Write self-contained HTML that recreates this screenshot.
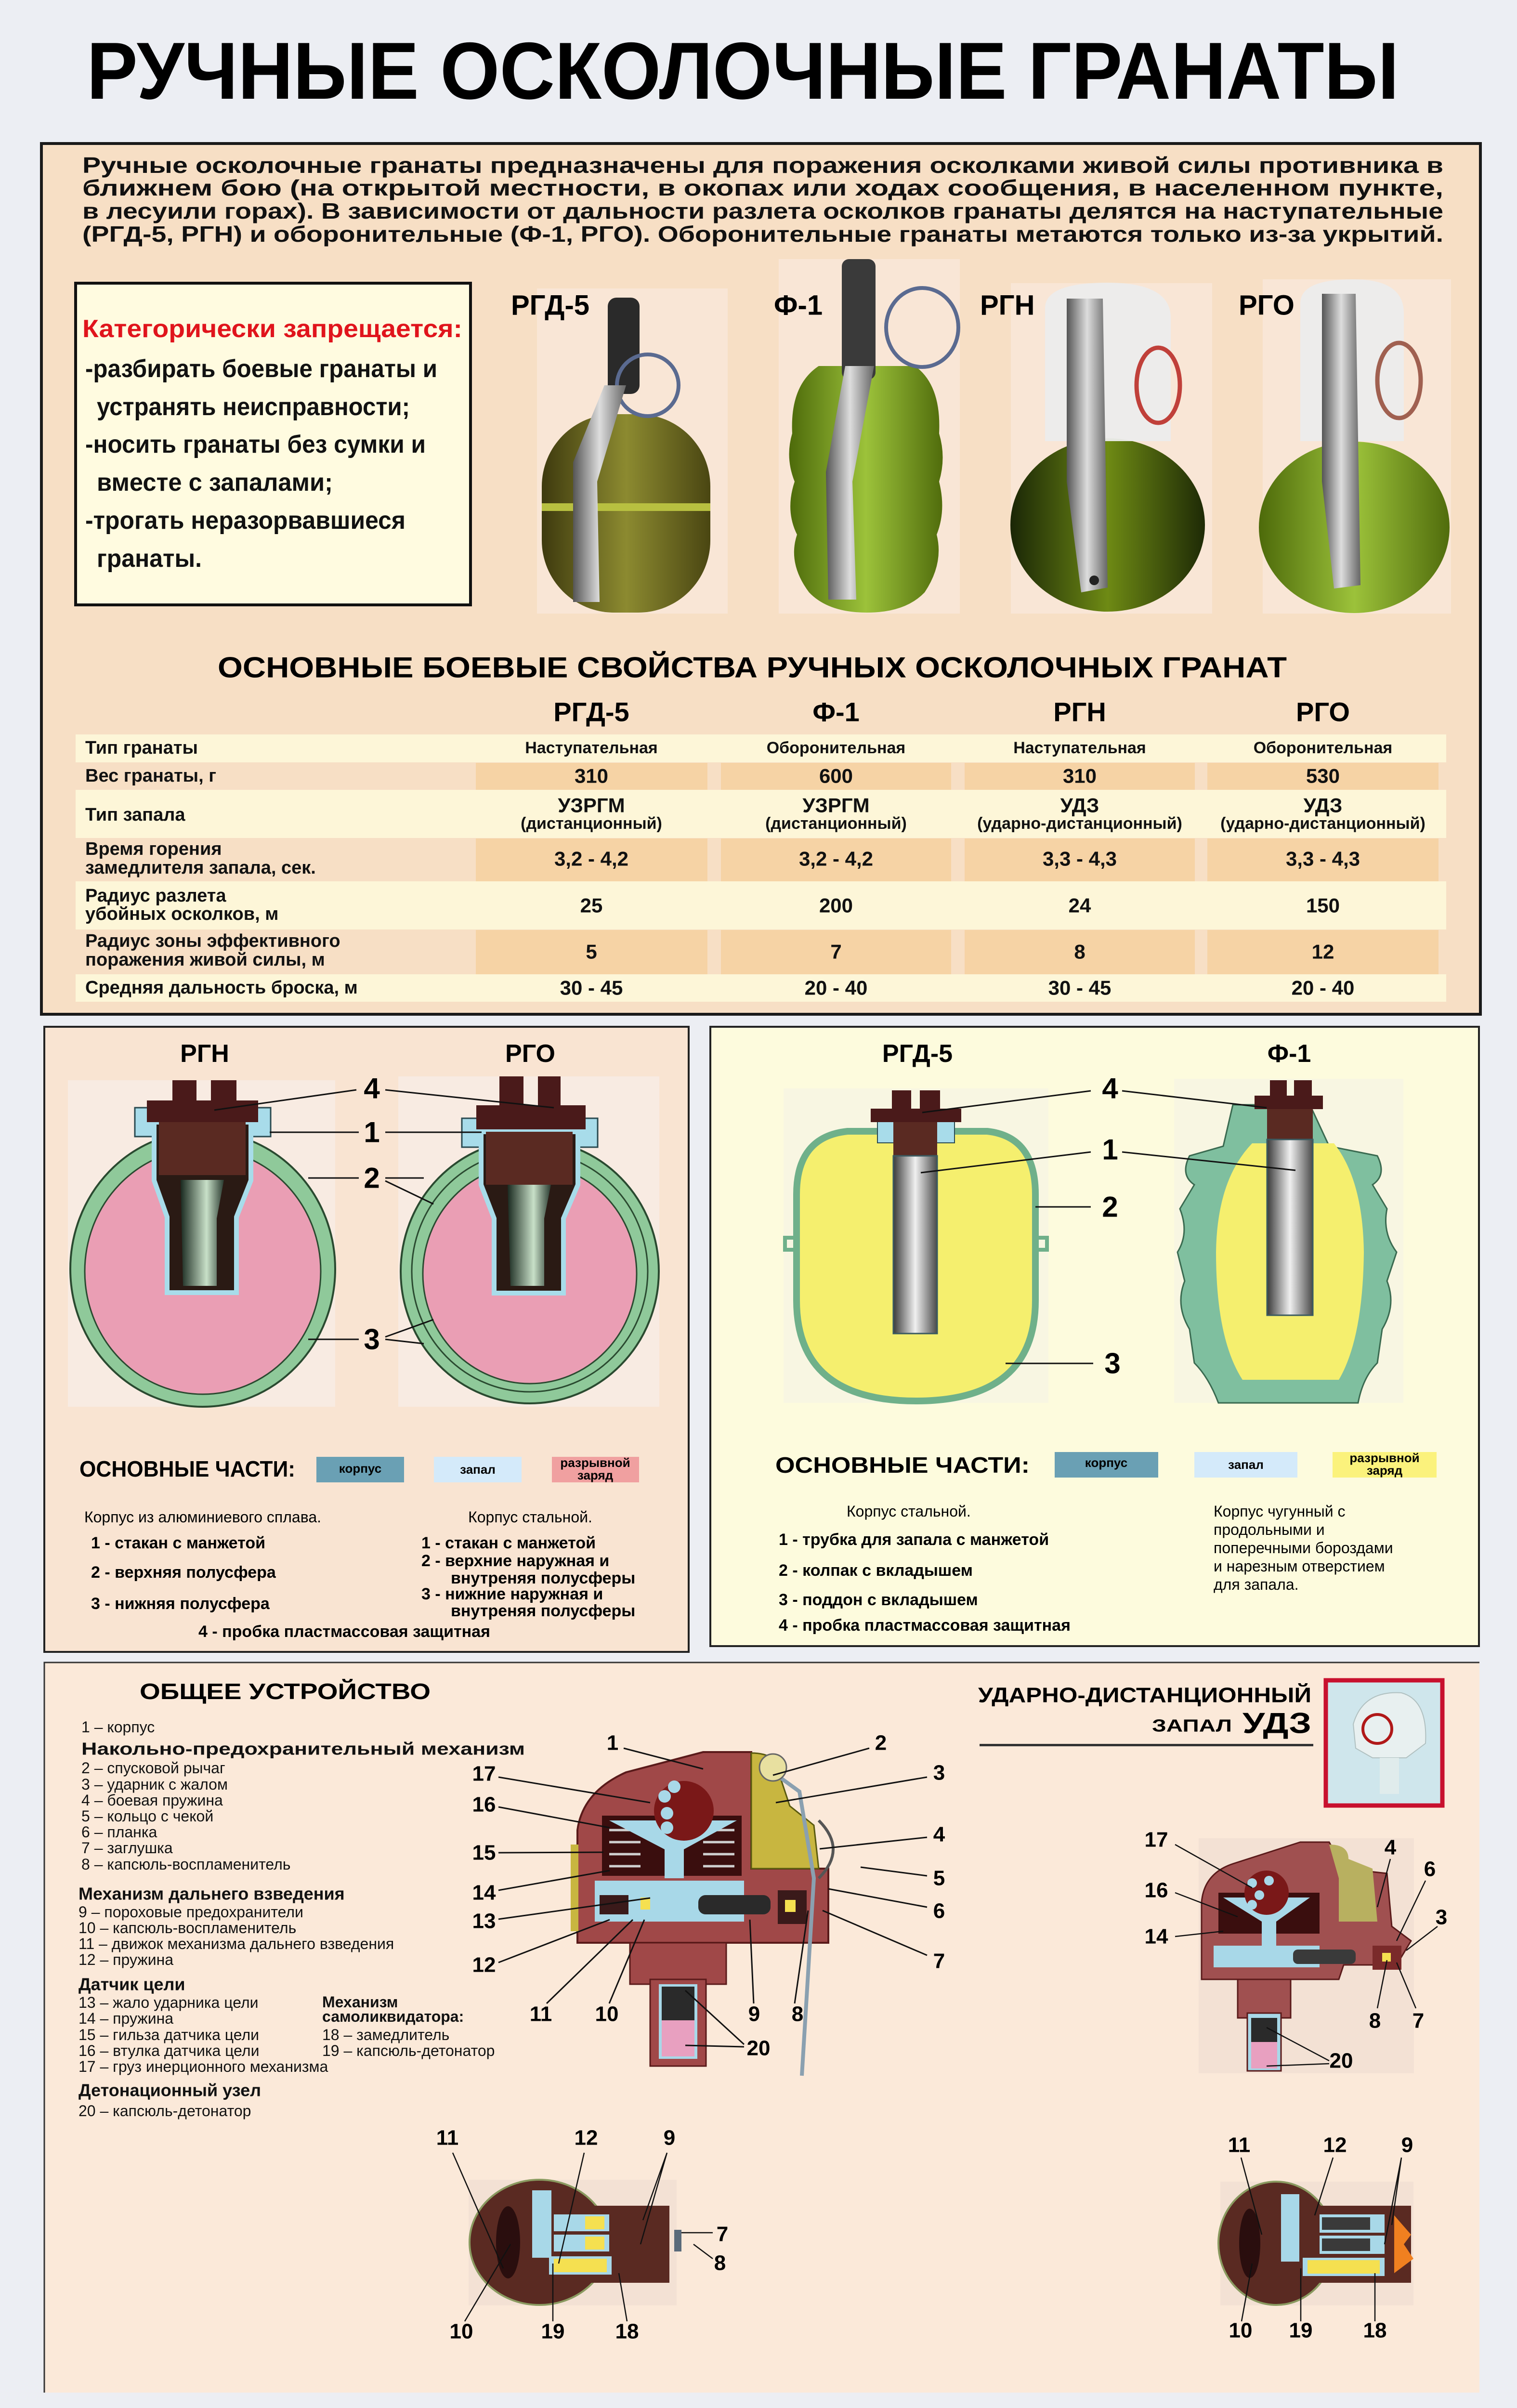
<!DOCTYPE html>
<html><head><meta charset="utf-8"><style>html,body{margin:0;padding:0;background:#eceef3;width:3150px;height:5118px;overflow:hidden}svg{display:block}text{font-family:"Liberation Sans",sans-serif}</style></head><body>
<svg width="3150" height="5118" viewBox="0 0 3150 5118" xmlns="http://www.w3.org/2000/svg">
<defs>
<linearGradient id="tube" x1="0" x2="1"><stop offset="0" stop-color="#3a3a3a"/><stop offset=".5" stop-color="#f0f0f0"/><stop offset="1" stop-color="#4a4a4a"/></linearGradient>
<linearGradient id="olive" x1="0" x2="1"><stop offset="0" stop-color="#3e3a0e"/><stop offset=".5" stop-color="#8c8a30"/><stop offset="1" stop-color="#4a4612"/></linearGradient>
<linearGradient id="f1g" x1="0" x2="1"><stop offset="0" stop-color="#4d6a0a"/><stop offset=".5" stop-color="#9cc23a"/><stop offset="1" stop-color="#506c0c"/></linearGradient>
<linearGradient id="dkg" x1="0" x2="1"><stop offset="0" stop-color="#1a2606"/><stop offset=".5" stop-color="#6e8a14"/><stop offset="1" stop-color="#1e2a06"/></linearGradient>
<linearGradient id="lev" x1="0" x2="1"><stop offset="0" stop-color="#555"/><stop offset=".5" stop-color="#ddd"/><stop offset="1" stop-color="#666"/></linearGradient>
<linearGradient id="core" x1="0" x2="1"><stop offset="0" stop-color="#1a2a20"/><stop offset=".6" stop-color="#c8e0c8"/><stop offset="1" stop-color="#2a3a30"/></linearGradient>
</defs>
<rect width="3150" height="5118" fill="#eceef3"/>
<text x="180" y="147" font-size="168" font-weight="bold" dominant-baseline="central" textLength="2725" lengthAdjust="spacingAndGlyphs">РУЧНЫЕ ОСКОЛОЧНЫЕ ГРАНАТЫ</text>

<rect x="86" y="298" width="2988" height="1808" fill="#f7dfc5" stroke="#1a1a1a" stroke-width="6"/>
<g font-size="46" font-weight="bold" dominant-baseline="central" fill="#111">
<text x="171" y="343" textLength="2826" lengthAdjust="spacingAndGlyphs">Ручные осколочные гранаты предназначены для поражения осколками живой силы противника в</text>
<text x="171" y="390" textLength="2826" lengthAdjust="spacingAndGlyphs">ближнем бою (на открытой местности, в окопах или ходах сообщения, в населенном пункте,</text>
<text x="171" y="438" textLength="2826" lengthAdjust="spacingAndGlyphs">в лесуили горах). В зависимости от дальности разлета осколков гранаты делятся на наступательные</text>
<text x="171" y="486" textLength="2826" lengthAdjust="spacingAndGlyphs">(РГД-5, РГН) и оборонительные (Ф-1, РГО). Оборонительные гранаты метаются только из-за укрытий.</text>
</g>
<rect x="157" y="588" width="820" height="668" fill="#fffbe0" stroke="#111" stroke-width="6"/>
<g font-size="52" font-weight="bold" dominant-baseline="central" fill="#111">
<text x="171" y="683" fill="#e0141c" textLength="789" lengthAdjust="spacingAndGlyphs">Категорически запрещается:</text>
<text x="177" y="766" textLength="731" lengthAdjust="spacingAndGlyphs">-разбирать боевые гранаты и</text>
<text x="201" y="845" textLength="650" lengthAdjust="spacingAndGlyphs">устранять неисправности;</text>
<text x="177" y="923" textLength="707" lengthAdjust="spacingAndGlyphs">-носить гранаты без сумки и</text>
<text x="201" y="1002" textLength="490" lengthAdjust="spacingAndGlyphs">вместе с запалами;</text>
<text x="177" y="1081" textLength="665" lengthAdjust="spacingAndGlyphs">-трогать неразорвавшиеся</text>
<text x="201" y="1160" textLength="218" lengthAdjust="spacingAndGlyphs">гранаты.</text>
</g>
<g fill="#f9e6d6">
<rect x="1115" y="599" width="396" height="675"/><rect x="1617" y="538" width="376" height="736"/>
<rect x="2099" y="588" width="418" height="686"/><rect x="2622" y="580" width="391" height="694"/>
</g>
<g font-size="58" font-weight="bold" dominant-baseline="central">
<text x="1061" y="634">РГД-5</text><text x="1607" y="634">Ф-1</text><text x="2035" y="634">РГН</text><text x="2572" y="634">РГО</text>
</g>
<rect x="1125" y="860" width="350" height="412" rx="150" fill="url(#olive)"/>
<rect x="1125" y="1045" width="350" height="16" fill="#b8c040"/>
<rect x="1262" y="618" width="66" height="200" rx="18" fill="#2a2a2a"/>
<circle cx="1345" cy="800" r="64" fill="none" stroke="#5a6a90" stroke-width="8"/>
<path d="M1255 800 L1300 800 L1240 1000 L1245 1250 L1190 1250 L1190 960 Z" fill="url(#lev)"/>
<path d="M1700 760 Q1640 800 1645 900 Q1630 950 1650 1000 Q1630 1060 1655 1110 Q1635 1170 1680 1230 Q1720 1272 1800 1272 Q1880 1272 1920 1230 Q1960 1170 1945 1110 Q1965 1060 1950 1000 Q1965 950 1950 900 Q1955 800 1900 760 Z" fill="url(#f1g)"/>
<rect x="1748" y="538" width="70" height="250" rx="15" fill="#3a3a3a"/>
<ellipse cx="1915" cy="680" rx="75" ry="82" fill="none" stroke="#5a6a90" stroke-width="8"/>
<path d="M1755 760 L1815 760 L1770 1000 L1778 1245 L1720 1245 L1715 980 Z" fill="url(#lev)"/>
<ellipse cx="2300" cy="1090" rx="202" ry="180" fill="url(#dkg)"/>
<path d="M2170 640 Q2170 587 2300 587 Q2431 587 2431 660 L2431 916 L2170 916 Z" fill="#ececec" opacity=".95"/>
<ellipse cx="2405" cy="800" rx="45" ry="78" fill="none" stroke="#c0403a" stroke-width="9"/>
<path d="M2215 620 L2290 620 L2300 1220 L2245 1230 L2215 1000 Z" fill="url(#lev)"/>
<circle cx="2272" cy="1205" r="10" fill="#222"/>
<ellipse cx="2812" cy="1095" rx="198" ry="178" fill="url(#f1g)"/>
<path d="M2700 630 Q2700 580 2810 580 Q2915 580 2915 650 L2915 916 L2700 916 Z" fill="#ececec" opacity=".95"/>
<ellipse cx="2905" cy="790" rx="45" ry="78" fill="none" stroke="#a06050" stroke-width="9"/>
<path d="M2745 610 L2815 610 L2825 1215 L2770 1222 L2745 1000 Z" fill="url(#lev)"/>

<text x="452" y="1386" font-size="60" font-weight="bold" dominant-baseline="central" textLength="2220" lengthAdjust="spacingAndGlyphs">ОСНОВНЫЕ БОЕВЫЕ СВОЙСТВА РУЧНЫХ ОСКОЛОЧНЫХ ГРАНАТ</text>
<g font-size="56" font-weight="bold" dominant-baseline="central" text-anchor="middle">
<text x="1228" y="1478">РГД-5</text><text x="1736" y="1478">Ф-1</text><text x="2242" y="1478">РГН</text><text x="2747" y="1478">РГО</text>
</g>
<g fill="#fdf6d8">
<rect x="157" y="1525" width="2846" height="58"/><rect x="157" y="1640" width="2846" height="100"/>
<rect x="157" y="1830" width="2846" height="100"/><rect x="157" y="2023" width="2846" height="57"/>
</g>
<g fill="#f6d3a5">
<rect x="988" y="1584" width="481" height="56"/><rect x="1497" y="1584" width="478" height="56"/><rect x="2003" y="1584" width="478" height="56"/><rect x="2507" y="1584" width="480" height="56"/>
<rect x="988" y="1741" width="481" height="89"/><rect x="1497" y="1741" width="478" height="89"/><rect x="2003" y="1741" width="478" height="89"/><rect x="2507" y="1741" width="480" height="89"/>
<rect x="988" y="1931" width="481" height="92"/><rect x="1497" y="1931" width="478" height="92"/><rect x="2003" y="1931" width="478" height="92"/><rect x="2507" y="1931" width="480" height="92"/>
</g>
<g font-size="38" font-weight="bold" dominant-baseline="central" fill="#111">
<text x="177" y="1553">Тип гранаты</text><text x="177" y="1611">Вес гранаты, г</text><text x="177" y="1692">Тип запала</text>
<text x="177" y="1763">Время горения</text><text x="177" y="1802">замедлителя запала, сек.</text>
<text x="177" y="1860">Радиус разлета</text><text x="177" y="1898">убойных осколков, м</text>
<text x="177" y="1954">Радиус зоны эффективного</text><text x="177" y="1993">поражения живой силы, м</text>
<text x="177" y="2051">Средняя дальность броска, м</text>
</g>
<g font-size="34" font-weight="bold" dominant-baseline="central" text-anchor="middle" fill="#111">
<text x="1228" y="1553">Наступательная</text><text x="1736" y="1553">Оборонительная</text><text x="2242" y="1553">Наступательная</text><text x="2747" y="1553">Оборонительная</text>
<text x="1228" y="1710">(дистанционный)</text><text x="1736" y="1710">(дистанционный)</text><text x="2242" y="1710">(ударно-дистанционный)</text><text x="2747" y="1710">(ударно-дистанционный)</text>
</g>
<g font-size="42" font-weight="bold" dominant-baseline="central" text-anchor="middle" fill="#111">
<text x="1228" y="1611">310</text><text x="1736" y="1611">600</text><text x="2242" y="1611">310</text><text x="2747" y="1611">530</text>
<text x="1228" y="1672">УЗРГМ</text><text x="1736" y="1672">УЗРГМ</text><text x="2242" y="1672">УДЗ</text><text x="2747" y="1672">УДЗ</text>
<text x="1228" y="1783">3,2 - 4,2</text><text x="1736" y="1783">3,2 - 4,2</text><text x="2242" y="1783">3,3 - 4,3</text><text x="2747" y="1783">3,3 - 4,3</text>
<text x="1228" y="1880">25</text><text x="1736" y="1880">200</text><text x="2242" y="1880">24</text><text x="2747" y="1880">150</text>
<text x="1228" y="1976">5</text><text x="1736" y="1976">7</text><text x="2242" y="1976">8</text><text x="2747" y="1976">12</text>
<text x="1228" y="2051">30 - 45</text><text x="1736" y="2051">20 - 40</text><text x="2242" y="2051">30 - 45</text><text x="2747" y="2051">20 - 40</text>
</g>

<rect x="92" y="2132" width="1338" height="1298" fill="#f9e4d2" stroke="#222" stroke-width="4"/>
<rect x="141" y="2243" width="555" height="678" fill="#f8ebe2"/>
<rect x="827" y="2235" width="542" height="686" fill="#f8ebe2"/>
<g font-size="52" font-weight="bold" dominant-baseline="central" text-anchor="middle">
<text x="425" y="2188">РГН</text><text x="1101" y="2188">РГО</text>
</g>
<ellipse cx="421" cy="2635" rx="275" ry="286" fill="#8fc99a" stroke="#2a4a30" stroke-width="4"/>
<ellipse cx="421" cy="2640" rx="245" ry="255" fill="#ea9eb4" stroke="#2a4a30" stroke-width="3"/>
<rect x="280" y="2300" width="282" height="60" fill="#a8dcea" stroke="#2a4a50" stroke-width="3"/>
<path d="M320 2330 L521 2330 L521 2451 L491 2527 L491 2684 L347 2684 L347 2527 L320 2451 Z" fill="#2a1a14" stroke="#a8dcea" stroke-width="10"/>
<path d="M375 2450 L465 2450 L450 2530 L450 2670 L380 2670 Z" fill="url(#core)"/>
<rect x="330" y="2330" width="180" height="110" fill="#5a2a22"/>
<rect x="305" y="2285" width="231" height="45" fill="#4a1a1a"/>
<rect x="358" y="2243" width="50" height="45" fill="#4a1a1a"/><rect x="438" y="2243" width="53" height="45" fill="#4a1a1a"/>
<ellipse cx="1100" cy="2640" rx="268" ry="274" fill="#8fc99a" stroke="#2a4a30" stroke-width="4"/>
<ellipse cx="1100" cy="2640" rx="245" ry="250" fill="none" stroke="#2a4a30" stroke-width="3"/>
<ellipse cx="1100" cy="2645" rx="222" ry="228" fill="#ea9eb4" stroke="#2a4a30" stroke-width="3"/>
<rect x="959" y="2322" width="282" height="60" fill="#a8dcea" stroke="#2a4a50" stroke-width="3"/>
<path d="M999 2350 L1200 2350 L1200 2460 L1170 2530 L1170 2685 L1026 2685 L1026 2530 L999 2460 Z" fill="#2a1a14" stroke="#a8dcea" stroke-width="10"/>
<path d="M1054 2460 L1144 2460 L1130 2530 L1130 2670 L1060 2670 Z" fill="url(#core)"/>
<rect x="1009" y="2350" width="180" height="110" fill="#5a2a22"/>
<rect x="989" y="2295" width="227" height="50" fill="#4a1a1a"/>
<rect x="1037" y="2235" width="50" height="62" fill="#4a1a1a"/><rect x="1117" y="2235" width="47" height="62" fill="#4a1a1a"/>
<g stroke="#111" stroke-width="3" fill="none">
<path d="M740 2263 L445 2305 M800 2263 L1150 2300"/>
<path d="M745 2351 L560 2351 M800 2351 L1000 2351"/>
<path d="M745 2446 L640 2446 M800 2446 L880 2446 M800 2452 L900 2500"/>
<path d="M745 2781 L640 2781 M800 2781 L880 2790 M800 2776 L900 2740"/>
</g>
<g font-size="60" font-weight="bold" dominant-baseline="central" text-anchor="middle">
<text x="772" y="2260">4</text><text x="772" y="2351">1</text><text x="772" y="2446">2</text><text x="772" y="2781">3</text>
</g>
<text x="165" y="3050" font-size="46" font-weight="bold" dominant-baseline="central" textLength="448" lengthAdjust="spacingAndGlyphs">ОСНОВНЫЕ ЧАСТИ:</text>
<rect x="657" y="3025" width="182" height="53" fill="#6aa0b4"/><rect x="901" y="3025" width="182" height="53" fill="#d4eafa"/><rect x="1146" y="3025" width="181" height="53" fill="#f0a0a0"/>
<g font-size="26" font-weight="bold" text-anchor="middle" dominant-baseline="central">
<text x="748" y="3049">корпус</text><text x="992" y="3051">запал</text><text x="1236" y="3037">разрывной</text><text x="1236" y="3063">заряд</text>
</g>
<g font-size="32" text-anchor="middle" dominant-baseline="central"><text x="421" y="3150">Корпус из алюминиевого сплава.</text><text x="1101" y="3150">Корпус стальной.</text></g>
<g font-size="34" font-weight="bold" dominant-baseline="central">
<text x="189" y="3204">1 - стакан с манжетой</text><text x="189" y="3265">2 - верхняя полусфера</text><text x="189" y="3330">3 - нижняя полусфера</text>
<text x="875" y="3204">1 - стакан с манжетой</text><text x="875" y="3241">2 - верхние наружная и</text><text x="936" y="3277">внутреняя полусферы</text>
<text x="875" y="3310">3 - нижние наружная и</text><text x="936" y="3345">внутреняя полусферы</text>
<text x="412" y="3388">4 - пробка пластмассовая защитная</text>
</g>

<rect x="1475" y="2132" width="1596" height="1286" fill="#fdfbdd" stroke="#222" stroke-width="4"/>
<rect x="1627" y="2260" width="550" height="653" fill="#f8f6e2"/><rect x="2438" y="2240" width="476" height="673" fill="#f8f6e2"/>
<g font-size="52" font-weight="bold" dominant-baseline="central" text-anchor="middle"><text x="1905" y="2188">РГД-5</text><text x="2677" y="2188">Ф-1</text></g>
<path d="M1760 2349 L2050 2349 Q2150 2360 2150 2480 L2150 2700 Q2150 2909 1902 2909 Q1654 2909 1654 2700 L1654 2480 Q1654 2360 1760 2349 Z" fill="#f5ef6e" stroke="#6fb08a" stroke-width="14"/>
<path d="M1654 2570 L1630 2570 L1630 2595 L1654 2595 M2150 2570 L2174 2570 L2174 2595 L2150 2595" fill="none" stroke="#6fb08a" stroke-width="8"/>
<rect x="1822" y="2328" width="160" height="45" fill="#a8dcea" stroke="#2a4a50" stroke-width="2"/>
<rect x="1855" y="2328" width="91" height="75" fill="#5a2a22"/>
<rect x="1855" y="2400" width="91" height="369" fill="url(#tube)" stroke="#3a5a60" stroke-width="3"/>
<rect x="1808" y="2302" width="188" height="28" fill="#4a1a1a"/>
<rect x="1852" y="2264" width="40" height="40" fill="#4a1a1a"/><rect x="1910" y="2264" width="42" height="40" fill="#4a1a1a"/>
<path d="M2560 2294 L2720 2294 L2760 2380 L2860 2400 Q2880 2440 2850 2460 L2880 2510 Q2870 2560 2900 2600 L2880 2660 Q2900 2710 2870 2760 L2860 2830 Q2830 2860 2820 2913 L2530 2913 Q2510 2860 2480 2830 L2470 2760 Q2440 2710 2460 2660 L2445 2600 Q2470 2560 2450 2510 L2480 2460 Q2450 2440 2470 2400 L2540 2380 Z" fill="#7fbf9f" stroke="#3a6a50" stroke-width="3"/>
<path d="M2600 2374 L2770 2374 Q2830 2450 2832 2600 Q2830 2780 2780 2865 L2580 2865 Q2525 2780 2525 2600 Q2527 2450 2600 2374 Z" fill="#f5ef6e"/>
<rect x="2631" y="2300" width="95" height="70" fill="#5a2a22"/>
<rect x="2631" y="2366" width="95" height="365" fill="url(#tube)" stroke="#3a5a60" stroke-width="3"/>
<rect x="2605" y="2275" width="142" height="28" fill="#4a1a1a"/>
<rect x="2637" y="2243" width="35" height="35" fill="#4a1a1a"/><rect x="2687" y="2243" width="37" height="35" fill="#4a1a1a"/>
<g stroke="#111" stroke-width="3" fill="none">
<path d="M2265 2265 L1915 2310 M2330 2265 L2630 2300"/>
<path d="M2265 2392 L1912 2435 M2330 2392 L2690 2430"/>
<path d="M2265 2506 L2150 2506"/>
<path d="M2270 2831 L2088 2831"/>
</g>
<g font-size="60" font-weight="bold" dominant-baseline="central" text-anchor="middle">
<text x="2305" y="2260">4</text><text x="2305" y="2387">1</text><text x="2305" y="2506">2</text><text x="2310" y="2831">3</text>
</g>
<text x="1610" y="3042" font-size="46" font-weight="bold" dominant-baseline="central" textLength="528" lengthAdjust="spacingAndGlyphs">ОСНОВНЫЕ ЧАСТИ:</text>
<rect x="2190" y="3015" width="215" height="53" fill="#6aa0b4"/><rect x="2480" y="3015" width="214" height="53" fill="#d4eafa"/><rect x="2767" y="3015" width="216" height="53" fill="#fbf27c"/>
<g font-size="26" font-weight="bold" text-anchor="middle" dominant-baseline="central">
<text x="2297" y="3037">корпус</text><text x="2587" y="3041">запал</text><text x="2875" y="3027">разрывной</text><text x="2875" y="3053">заряд</text>
</g>
<text x="1758" y="3138" font-size="32" dominant-baseline="central">Корпус стальной.</text>
<g font-size="34" font-weight="bold" dominant-baseline="central">
<text x="1617" y="3197">1  -  трубка для запала с манжетой</text><text x="1617" y="3261">2  -  колпак с вкладышем</text>
<text x="1617" y="3322">3  -  поддон с вкладышем</text><text x="1617" y="3375">4  -  пробка пластмассовая защитная</text>
</g>
<g font-size="32" dominant-baseline="central">
<text x="2520" y="3138">Корпус чугунный с</text><text x="2520" y="3176">продольными и</text><text x="2520" y="3214">поперечными бороздами</text>
<text x="2520" y="3252">и нарезным отверстием</text><text x="2520" y="3290">для запала.</text>
</g>

<rect x="92" y="3452" width="2980" height="1516" fill="#fbe9d9"/>
<path d="M92 4968 L92 3452 L3072 3452" fill="none" stroke="#333" stroke-width="3"/>
<text x="290" y="3512" font-size="46" font-weight="bold" dominant-baseline="central" textLength="604" lengthAdjust="spacingAndGlyphs">ОБЩЕЕ УСТРОЙСТВО</text>
<g font-size="32" dominant-baseline="central" fill="#111">
<text x="169" y="3586">1 – корпус</text>
<text x="169" y="3671">2 – спусковой рычаг</text><text x="169" y="3705">3 – ударник с жалом</text><text x="169" y="3738">4 – боевая пружина</text>
<text x="169" y="3771">5 – кольцо с чекой</text><text x="169" y="3804">6 – планка</text><text x="169" y="3837">7 – заглушка</text><text x="169" y="3871">8 – капсюль-воспламенитель</text>
<text x="163" y="3970">9 – пороховые предохранители</text><text x="163" y="4003">10 – капсюль-воспламенитель</text><text x="163" y="4036">11 – движок механизма дальнего взведения</text><text x="163" y="4069">12 – пружина</text>
<text x="163" y="4158">13 – жало ударника цели</text><text x="163" y="4191">14 – пружина</text><text x="163" y="4225">15 – гильза  датчика цели</text><text x="163" y="4258">16 – втулка  датчика цели</text><text x="163" y="4291">17 – груз инерционного механизма</text>
<text x="669" y="4225">18 – замедлитель</text><text x="669" y="4258">19 – капсюль-детонатор</text>
<text x="163" y="4383">20 – капсюль-детонатор</text>
</g>
<g font-size="36" font-weight="bold" dominant-baseline="central" fill="#111">
<text x="169" y="3631" textLength="921" lengthAdjust="spacingAndGlyphs">Накольно-предохранительный механизм</text>
<text x="163" y="3932">Механизм дальнего взведения</text>
<text x="163" y="4120">Датчик цели</text>
<text x="163" y="4340">Детонационный узел</text>
<text x="669" y="4157" font-size="32">Механизм</text><text x="669" y="4187" font-size="32">самоликвидатора:</text>
</g>
<path d="M1199 3800 Q1210 3720 1300 3680 L1460 3638 L1560 3638 L1560 3880 L1720 3880 L1720 4034 L1199 4034 Z" fill="#a04848" stroke="#5a1a1a" stroke-width="4"/>
<path d="M1560 3640 Q1620 3640 1620 3690 L1640 3750 L1690 3790 L1700 3880 L1560 3880 Z" fill="#c8b640" stroke="#5a5a10" stroke-width="3"/>
<rect x="1185" y="3830" width="16" height="180" fill="#c8b640"/>
<rect x="1250" y="3770" width="290" height="125" fill="#3a0e0e"/>
<g stroke="#d0d0d0" stroke-width="5"><path d="M1265 3800 H1330 M1265 3825 H1330 M1265 3850 H1330 M1265 3875 H1330 M1460 3800 H1525 M1460 3825 H1525 M1460 3850 H1525 M1460 3875 H1525"/></g>
<path d="M1265 3780 L1530 3780 L1420 3840 L1420 3900 L1380 3900 L1380 3840 Z" fill="#a8d8e8"/>
<circle cx="1420" cy="3760" r="62" fill="#7a1818"/>
<g fill="#a8d8e8"><circle cx="1380" cy="3730" r="13"/><circle cx="1400" cy="3710" r="13"/><circle cx="1385" cy="3765" r="13"/><circle cx="1385" cy="3795" r="13"/></g>
<rect x="1235" y="3905" width="310" height="85" fill="#a8d8e8"/>
<rect x="1245" y="3935" width="60" height="40" fill="#3a1a1a"/>
<rect x="1330" y="3940" width="20" height="25" fill="#f5e050"/>
<rect x="1450" y="3935" width="150" height="40" rx="15" fill="#2a2a2a"/>
<rect x="1615" y="3925" width="60" height="70" fill="#3a1a1a"/><rect x="1630" y="3945" width="22" height="25" fill="#f5e050"/>
<rect x="1308" y="4034" width="200" height="86" fill="#a04848" stroke="#5a1a1a" stroke-width="3"/>
<rect x="1350" y="4110" width="116" height="180" fill="#a04848" stroke="#5a1a1a" stroke-width="3"/>
<rect x="1368" y="4120" width="80" height="155" fill="#a8d8e8"/><rect x="1374" y="4125" width="68" height="70" fill="#2a2a2a"/><rect x="1374" y="4195" width="68" height="75" fill="#e8a0c0"/>
<path d="M1605 3680 L1660 3720 L1690 3900 L1665 4310" fill="none" stroke="#8aa0b0" stroke-width="8"/>
<path d="M1700 3780 Q1760 3840 1700 3900" fill="none" stroke="#555" stroke-width="6"/>
<circle cx="1605" cy="3670" r="28" fill="#e8e0a0" stroke="#666" stroke-width="3"/>
<g stroke="#111" stroke-width="3" fill="none">
<path d="M1295 3630 L1460 3673 M1805 3630 L1605 3686 M1925 3690 L1611 3743 M1035 3690 L1350 3743 M1035 3752 L1266 3795 M1035 3847 L1253 3846 M1925 3815 L1702 3839 M1925 3895 L1787 3877 M1035 3925 L1266 3884 M1925 3960 L1720 3922 M1035 3985 L1350 3941 M1925 4060 L1708 3967 M1035 4075 L1266 3986 M1135 4160 L1314 3986 M1265 4160 L1338 3986 M1565 4160 L1557 3986 M1650 4160 L1678 3967 M1545 4245 L1423 4133 M1545 4250 L1423 4247"/>
</g>
<g font-size="44" font-weight="bold" dominant-baseline="central" text-anchor="middle">
<text x="1272" y="3619">1</text><text x="1829" y="3619">2</text><text x="1950" y="3681">3</text><text x="1005" y="3683">17</text><text x="1005" y="3747">16</text><text x="1005" y="3847">15</text>
<text x="1950" y="3809">4</text><text x="1950" y="3900">5</text><text x="1005" y="3930">14</text><text x="1950" y="3968">6</text><text x="1005" y="3989">13</text><text x="1950" y="4072">7</text>
<text x="1005" y="4080">12</text><text x="1123" y="4182">11</text><text x="1260" y="4182">10</text><text x="1566" y="4182">9</text><text x="1656" y="4182">8</text><text x="1575" y="4253">20</text>
</g>
<text x="2031" y="3520" font-size="44" font-weight="bold" dominant-baseline="central" textLength="692" lengthAdjust="spacingAndGlyphs">УДАРНО-ДИСТАНЦИОННЫЙ</text>
<text x="2392" y="3583" font-size="36" font-weight="bold" dominant-baseline="central" textLength="166" lengthAdjust="spacingAndGlyphs">ЗАПАЛ</text>
<text x="2580" y="3578" font-size="60" font-weight="bold" dominant-baseline="central" textLength="143" lengthAdjust="spacingAndGlyphs">УДЗ</text>
<rect x="2034" y="3621" width="693" height="5" fill="#333"/>
<rect x="2753" y="3489" width="242" height="260" fill="#cfe6ec" stroke="#c8102e" stroke-width="9"/>
<path d="M2810 3580 Q2830 3510 2910 3515 Q2965 3530 2960 3620 L2920 3650 L2850 3650 L2815 3630 Z" fill="#e8f0f0" stroke="#b0c0c0" stroke-width="2"/>
<rect x="2865" y="3650" width="40" height="75" fill="#e0ecec"/>
<circle cx="2860" cy="3590" r="30" fill="none" stroke="#b01818" stroke-width="6"/>
<rect x="2489" y="3817" width="447" height="488" fill="#f3e1d4"/>
<path d="M2495 3950 Q2500 3890 2560 3870 L2700 3825 L2760 3825 L2790 3880 L2880 3890 L2890 4000 L2930 4030 L2900 4080 L2790 4080 L2780 4110 L2495 4110 Z" fill="#a05050" stroke="#5a1a1a" stroke-width="3"/>
<path d="M2760 3830 Q2800 3830 2800 3860 L2850 3880 L2860 3990 L2780 3990 L2780 3900 Z" fill="#b8b060"/>
<rect x="2530" y="3930" width="210" height="85" fill="#3a0e0e"/>
<path d="M2540 3940 L2720 3940 L2650 3990 L2650 4040 L2620 4040 L2620 3990 Z" fill="#a8d8e8"/>
<circle cx="2630" cy="3930" r="46" fill="#7a1818"/>
<g fill="#a8d8e8"><circle cx="2600" cy="3910" r="10"/><circle cx="2615" cy="3935" r="10"/><circle cx="2600" cy="3955" r="10"/><circle cx="2635" cy="3905" r="10"/></g>
<rect x="2520" y="4040" width="220" height="45" fill="#a8d8e8"/><rect x="2685" y="4048" width="130" height="30" rx="10" fill="#3a3a3a"/>
<rect x="2850" y="4040" width="60" height="50" fill="#7a2a2a"/><rect x="2870" y="4055" width="18" height="18" fill="#f5e050"/>
<rect x="2570" y="4110" width="110" height="80" fill="#a05050" stroke="#5a1a1a" stroke-width="3"/>
<rect x="2590" y="4180" width="70" height="120" fill="#a8d8e8" stroke="#5a1a1a" stroke-width="3"/><rect x="2598" y="4190" width="54" height="50" fill="#2a2a2a"/><rect x="2598" y="4240" width="54" height="55" fill="#e8a0c0"/>
<g stroke="#111" stroke-width="2.5" fill="none">
<path d="M2440 3830 L2600 3920 M2440 3930 L2570 3980 M2440 4021 L2540 4010 M2887 3860 L2860 3960 M2960 3905 L2900 4030 M2985 4000 L2920 4050 M2860 4170 L2880 4070 M2940 4170 L2900 4075 M2760 4279 L2630 4210 M2760 4285 L2630 4290"/>
</g>
<g font-size="44" font-weight="bold" dominant-baseline="central" text-anchor="middle">
<text x="2401" y="3820">17</text><text x="2401" y="3925">16</text><text x="2401" y="4021">14</text><text x="2887" y="3836">4</text><text x="2969" y="3881">6</text><text x="2993" y="3981">3</text>
<text x="2855" y="4196">8</text><text x="2945" y="4196">7</text><text x="2785" y="4279">20</text>
</g>
<rect x="973" y="4526" width="432" height="261" fill="#f3e1d4"/>
<ellipse cx="1120" cy="4656" rx="145" ry="130" fill="#5a2a22" stroke="#8a9a60" stroke-width="4"/>
<rect x="1180" y="4580" width="210" height="160" fill="#5a2a22"/>
<ellipse cx="1055" cy="4656" rx="25" ry="75" fill="#2a0e0e"/>
<rect x="1105" y="4548" width="40" height="140" fill="#a8d8e8"/>
<rect x="1150" y="4598" width="115" height="35" fill="#a8d8e8"/><rect x="1215" y="4602" width="40" height="27" fill="#f5e050"/>
<rect x="1150" y="4640" width="115" height="35" fill="#a8d8e8"/><rect x="1215" y="4644" width="40" height="27" fill="#f5e050"/>
<rect x="1140" y="4685" width="130" height="38" fill="#a8d8e8"/><rect x="1150" y="4690" width="110" height="28" fill="#f5e050"/>
<rect x="1400" y="4630" width="15" height="45" fill="#5a6a7a"/>
<rect x="2534" y="4530" width="401" height="257" fill="#f3e1d4"/>
<ellipse cx="2650" cy="4658" rx="120" ry="128" fill="#5a2a22" stroke="#8a9a60" stroke-width="4"/>
<rect x="2700" y="4580" width="230" height="160" fill="#5a2a22"/>
<ellipse cx="2595" cy="4658" rx="22" ry="72" fill="#2a0e0e"/>
<rect x="2660" y="4556" width="38" height="140" fill="#a8d8e8"/>
<rect x="2740" y="4598" width="135" height="38" fill="#a8d8e8"/><rect x="2745" y="4604" width="100" height="26" fill="#3a3a3a"/>
<rect x="2740" y="4642" width="135" height="38" fill="#a8d8e8"/><rect x="2745" y="4648" width="100" height="26" fill="#3a3a3a"/>
<rect x="2705" y="4688" width="170" height="38" fill="#a8d8e8"/><rect x="2715" y="4693" width="150" height="28" fill="#f5e050"/>
<path d="M2895 4600 L2930 4640 L2915 4660 L2935 4690 L2895 4720 Z" fill="#f08020"/>
<g stroke="#111" stroke-width="2.5" fill="none">
<path d="M940 4470 L1045 4710 M1213 4470 L1160 4700 M1385 4470 L1335 4610 M1385 4470 L1330 4660 M1480 4636 L1415 4636 M1480 4690 L1440 4660 M965 4820 L1060 4660 M1148 4820 L1148 4700 M1302 4820 L1285 4720"/>
<path d="M2577 4480 L2620 4640 M2768 4480 L2730 4600 M2910 4480 L2890 4620 M2910 4480 L2875 4660 M2578 4820 L2600 4700 M2701 4820 L2701 4710 M2855 4820 L2855 4720"/>
</g>
<g font-size="44" font-weight="bold" dominant-baseline="central" text-anchor="middle">
<text x="929" y="4439">11</text><text x="1217" y="4439">12</text><text x="1390" y="4439">9</text><text x="1500" y="4639">7</text><text x="1495" y="4699">8</text>
<text x="958" y="4841">10</text><text x="1148" y="4841">19</text><text x="1302" y="4841">18</text>
<text x="2573" y="4454">11</text><text x="2772" y="4454">12</text><text x="2922" y="4454">9</text>
<text x="2576" y="4839">10</text><text x="2701" y="4839">19</text><text x="2855" y="4839">18</text>
</g>
</svg>
</body></html>
